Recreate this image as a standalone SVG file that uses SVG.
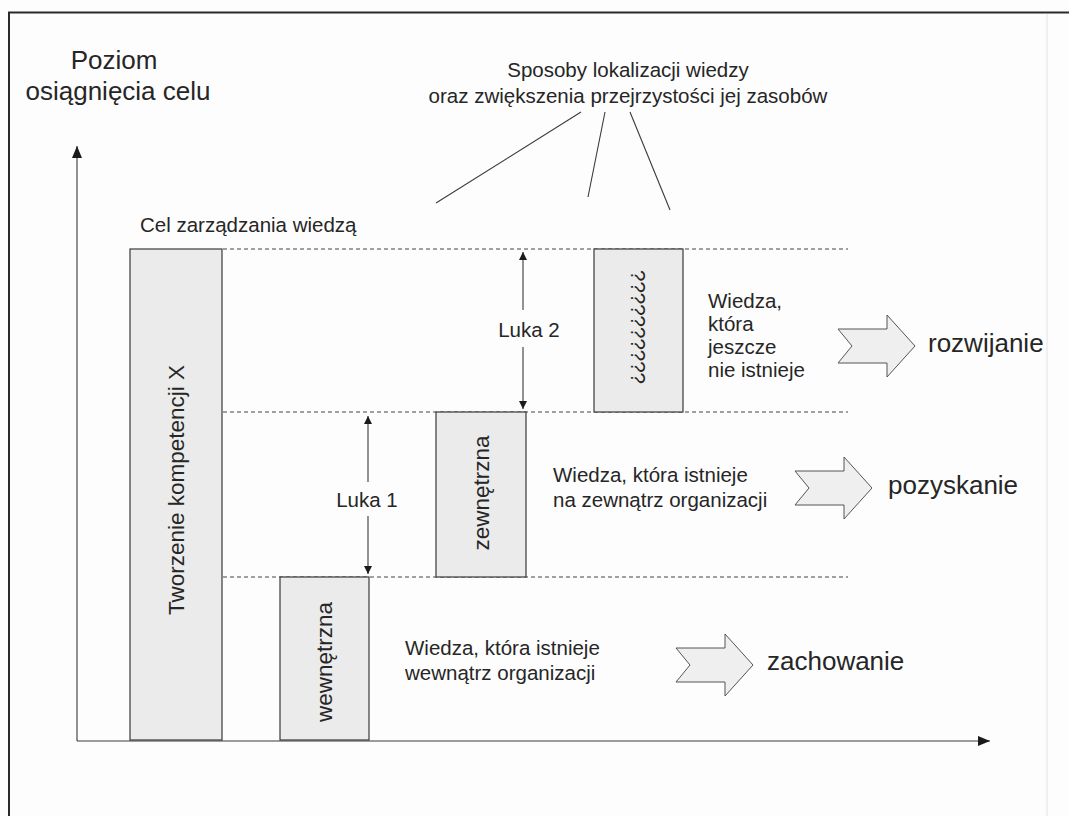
<svg xmlns="http://www.w3.org/2000/svg" width="1069" height="816" viewBox="0 0 1069 816">
<defs>
<style>
text{font-family:"Liberation Sans",Arial,sans-serif;fill:#262626}
.t20{font-size:20.5px}
.t26{font-size:26px}
.t22{font-size:22.5px}
.box{fill:#ebebeb;stroke:#3a3a3a;stroke-width:1.2}
.dash{stroke:#444;stroke-width:1;stroke-dasharray:4 3;fill:none}
.ln{stroke:#3a3a3a;stroke-width:1.1;fill:none}
.blk{fill:#efefef;stroke:#555;stroke-width:1}
</style>
<marker id="ah" viewBox="0 0 10 10" refX="10" refY="5" markerWidth="8" markerHeight="8" markerUnits="userSpaceOnUse" orient="auto">
<path d="M0,0 L10,5 L0,10 Z" fill="#1a1a1a"/>
</marker>
<marker id="ahL" viewBox="0 0 12 10" refX="12" refY="5" markerWidth="12" markerHeight="10" markerUnits="userSpaceOnUse" orient="auto">
<path d="M0,0 L12,5 L0,10 Z" fill="#1a1a1a"/>
</marker>
<path id="blk" d="M0,-17 L49,-17 L49,-31 L77,0 L49,31 L49,17 L0,17 L14,0 Z"/>
</defs>
<rect x="0" y="0" width="1069" height="816" fill="#fdfdfd"/>
<g id="frame">
<line x1="8" y1="12.5" x2="1069" y2="12.5" stroke="#2a2a2a" stroke-width="2"/>
<line x1="9" y1="12" x2="9" y2="816" stroke="#2a2a2a" stroke-width="2"/>
<line x1="1047" y1="14" x2="1047" y2="816" stroke="#e2e2e2" stroke-width="1"/>
</g>
<g id="axes">
<line class="ln" x1="77" y1="741" x2="77" y2="146" marker-end="url(#ahL)"/>
<line class="ln" x1="77" y1="741" x2="990" y2="741" marker-end="url(#ahL)"/>
<text class="t26" x="114" y="69" text-anchor="middle">Poziom</text>
<text class="t26" x="118" y="100" text-anchor="middle">osiągnięcia celu</text>
</g>
<g id="connectors">
<line class="dash" x1="223" y1="249" x2="848" y2="249"/>
<line class="dash" x1="223" y1="412" x2="848" y2="412"/>
<line class="dash" x1="223" y1="577" x2="848" y2="577"/>
<line class="ln" x1="581" y1="112" x2="436" y2="203"/>
<line class="ln" x1="605" y1="112" x2="588" y2="197"/>
<line class="ln" x1="630" y1="112" x2="670" y2="210"/>
<line class="ln" x1="523" y1="310" x2="523" y2="252" marker-end="url(#ah)"/>
<line class="ln" x1="523" y1="347" x2="523" y2="409" marker-end="url(#ah)"/>
<line class="ln" x1="368" y1="482" x2="368" y2="416" marker-end="url(#ah)"/>
<line class="ln" x1="368" y1="516" x2="368" y2="574" marker-end="url(#ah)"/>
</g>
<g id="title">
<text class="t20" x="628" y="77" text-anchor="middle">Sposoby lokalizacji wiedzy</text>
<text class="t20" x="628" y="103" text-anchor="middle">oraz zwiększenia przejrzystości jej zasobów</text>
</g>
<g id="goal">
<text class="t20" x="140" y="232">Cel zarządzania wiedzą</text>
</g>
<g id="box-tworzenie">
<rect class="box" x="130" y="249" width="92" height="491"/>
<text class="t22" transform="translate(184 490) rotate(-90)" text-anchor="middle">Tworzenie kompetencji X</text>
</g>
<g id="box-wewnetrzna">
<rect class="box" x="280" y="577" width="89" height="163"/>
<text class="t22" transform="translate(332 662) rotate(-90)" text-anchor="middle">wewnętrzna</text>
</g>
<g id="box-zewnetrzna">
<rect class="box" x="436" y="412" width="90" height="165"/>
<text class="t22" transform="translate(489 493) rotate(-90)" text-anchor="middle">zewnętrzna</text>
</g>
<g id="box-nieistniejaca">
<rect class="box" x="594" y="249" width="89" height="163"/>
<text class="t20" transform="translate(631 327) rotate(90)" text-anchor="middle">??????????</text>
</g>
<g id="luka2">
<text class="t20" x="529" y="337" text-anchor="middle">Luka 2</text>
</g>
<g id="luka1">
<text class="t20" x="367" y="507" text-anchor="middle">Luka 1</text>
</g>
<g id="rozwijanie">
<text class="t20" x="708" y="308">Wiedza,</text>
<text class="t20" x="708" y="331">która</text>
<text class="t20" x="708" y="354">jeszcze</text>
<text class="t20" x="708" y="377">nie istnieje</text>
<use href="#blk" class="blk" transform="translate(838 346)"/>
<text class="t26" x="928" y="352">rozwijanie</text>
</g>
<g id="pozyskanie">
<text class="t20" x="553" y="482">Wiedza, która istnieje</text>
<text class="t20" x="553" y="507">na zewnątrz organizacji</text>
<use href="#blk" class="blk" transform="translate(795 488)"/>
<text class="t26" x="888" y="494">pozyskanie</text>
</g>
<g id="zachowanie">
<text class="t20" x="405" y="655">Wiedza, która istnieje</text>
<text class="t20" x="405" y="680">wewnątrz organizacji</text>
<use href="#blk" class="blk" transform="translate(676 665)"/>
<text class="t26" x="767" y="670">zachowanie</text>
</g>
</svg>
